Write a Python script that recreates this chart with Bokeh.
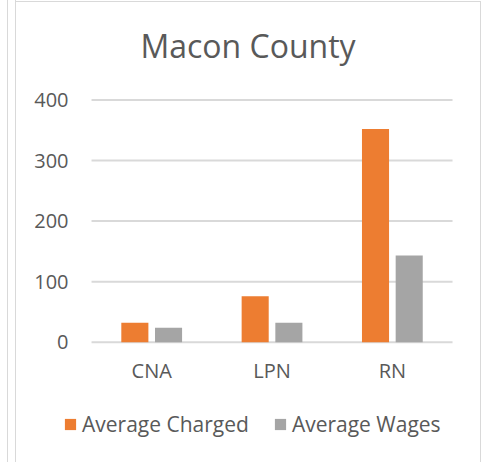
from bokeh.plotting import figure
from bokeh.models import (ColumnDataSource, Range1d, FixedTicker, LinearAxis,
                          Legend, LegendItem, Label)
from bokeh.transform import dodge
from bokeh.embed import file_html
from bokeh.resources import INLINE

# ---- data ----
title_text = "Macon County"
categories = ["CNA", "LPN", "RN"]
average_charged = [32, 76, 352]
average_wages = [24, 32, 143]
y_ticks = [0, 100, 200, 300, 400]
series_names = ["Average Charged", "Average Wages"]
series_colors = ["#ED7D31", "#A5A5A5"]

FONT = "Open Sans"
TEXT_COLOR = "#595959"
GRID = "#D9D9D9"
W = "#FFFFFF"

xi = list(range(len(categories)))
src = ColumnDataSource(dict(xi=xi, cat=categories,
                            charged=average_charged, wages=average_wages))
grid_src = ColumnDataSource(dict(y=y_ticks))

# frame covers the whole canvas; ranges chosen so the category area sits where the
# original chart's plot area is
p = figure(x_range=Range1d(-1.2565, 2.7408), y_range=Range1d(-198.7, 564.3),
           width=481, height=462, min_border=0,
           x_axis_type=None, y_axis_type=None,
           output_backend="svg", toolbar_location=None)
p.styles = {"box-shadow": (f"inset 7px 0 0 {W}, inset 8px 0 0 {GRID}, "
                           f"inset 15px 0 0 {W}, inset 16px 0 0 {GRID}, "
                           f"inset 0 1px 0 {W}, inset 0 2px 0 {GRID}, "
                           f"inset -1px 0 0 {GRID}")}
p.border_fill_color = None
p.background_fill_color = None
p.outline_line_color = None

# horizontal gridlines across the category area
p.segment(x0=xi[0] - 0.5, x1=xi[-1] + 0.5, y0="y", y1="y", source=grid_src,
          line_color=GRID, line_width=2)

r1 = p.vbar(x=dodge("xi", -0.14), top="charged", width=0.225,
            source=src, fill_color=series_colors[0], line_color=None)
r2 = p.vbar(x=dodge("xi", 0.14), top="wages", width=0.225,
            source=src, fill_color=series_colors[1], line_color=None)

yaxis = LinearAxis(fixed_location=xi[0] - 0.5, ticker=FixedTicker(ticks=y_ticks),
                   major_label_standoff=23)
xaxis = LinearAxis(fixed_location=0, ticker=FixedTicker(ticks=xi),
                   major_label_overrides={i: c for i, c in zip(xi, categories)},
                   major_label_standoff=15)
for ax in (xaxis, yaxis):
    ax.axis_line_color = None
    ax.major_tick_line_color = None
    ax.minor_tick_line_color = None
    ax.major_tick_out = 0
    ax.minor_tick_out = 0
    ax.major_label_text_font = FONT
    ax.major_label_text_font_size = "20px"
    ax.major_label_text_color = TEXT_COLOR
p.add_layout(yaxis, "left")
p.add_layout(xaxis, "below")

p.add_layout(Label(x=247.5, y=417, x_units="screen", y_units="screen", text=title_text,
                   text_align="center", text_baseline="alphabetic", text_font=FONT,
                   text_font_size="32px", text_color=TEXT_COLOR))

legend = Legend(items=[LegendItem(label=series_names[0], renderers=[r1]),
                       LegendItem(label=series_names[1], renderers=[r2])],
                location=(63, 24), orientation="horizontal",
                glyph_width=14, glyph_height=14, label_height=14,
                label_standoff=5, spacing=24, padding=0, margin=0,
                border_line_color=None, background_fill_alpha=0,
                label_text_font=FONT, label_text_font_size="21px",
                label_text_color=TEXT_COLOR)
p.add_layout(legend)

open("out.html", "w").write(file_html(p, INLINE))
